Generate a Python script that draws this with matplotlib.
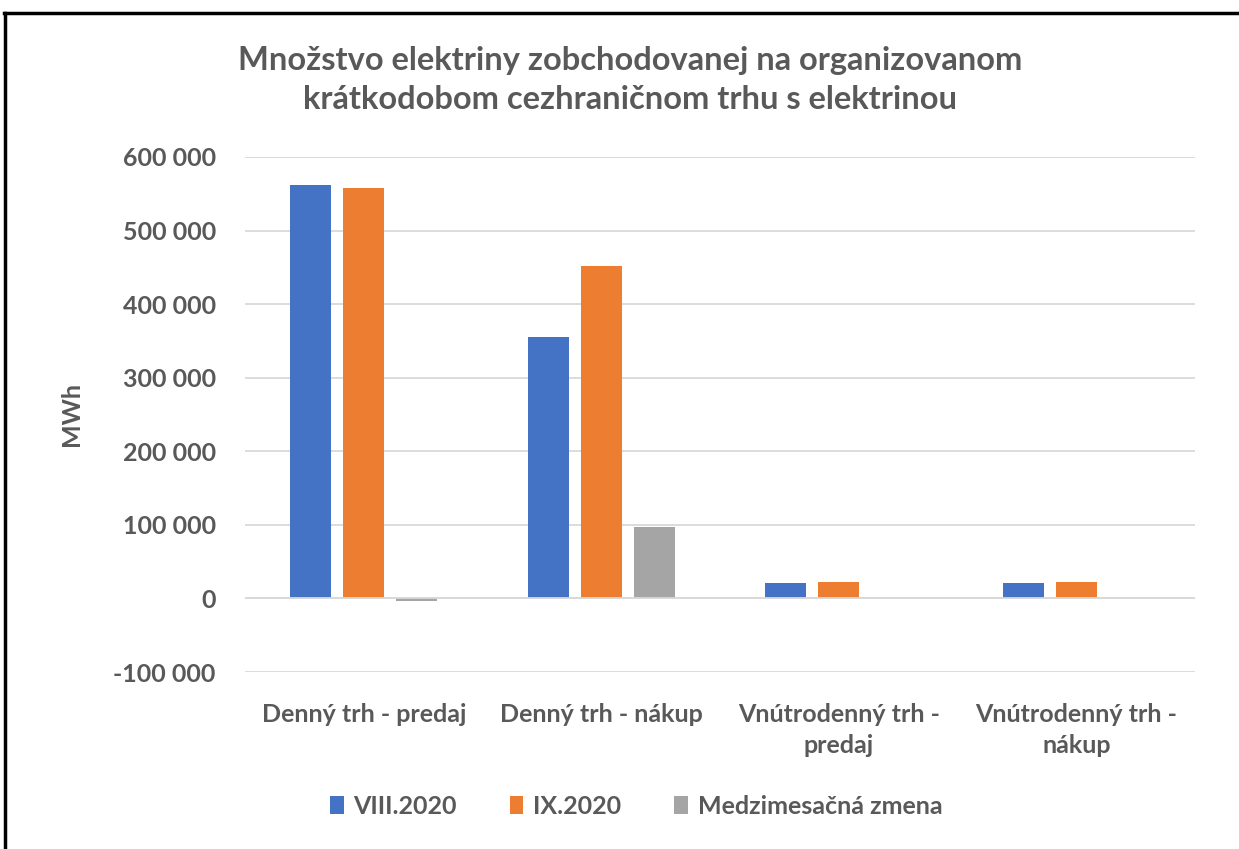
import matplotlib
matplotlib.use("Agg")
import matplotlib.pyplot as plt
from matplotlib.lines import Line2D
from matplotlib.ticker import FuncFormatter
import numpy as np

categories = ["Denný trh - predaj", "Denný trh - nákup", "Vnútrodenný trh -\npredaj", "Vnútrodenný trh -\nnákup"]
series_names = ["VIII.2020", "IX.2020", "Medzimesačná zmena"]
viii_2020 = [562000, 354700, 21300, 21300]
ix_2020 = [558500, 452400, 22600, 22600]
zmena = [-3500, 97700, 1000, 1000]
y_ticks = [-100000, 0, 100000, 200000, 300000, 400000, 500000, 600000]

colors = ["#4472C4", "#ED7D31", "#A5A5A5"]
text_color = "#595959"
plt.rcParams['font.family'] = ['Lato', 'DejaVu Sans']

fig = plt.figure(figsize=(12.39, 8.49), dpi=100)
ax = fig.add_axes([245/1239, 1-672/849, (1195-245)/1239, (672-157)/849])

x = np.arange(len(categories))
w = 41/237.5
off = 53/237.5
for i, (vals, c) in enumerate(zip([viii_2020, ix_2020, zmena], colors)):
    ax.bar(x + (i-1)*off, vals, width=w, color=c, zorder=3, label=series_names[i])

ax.set_xlim(-0.5, len(categories)-0.5)
ax.set_ylim(-100000, 600000)
ax.set_yticks(y_ticks)
ax.yaxis.set_major_formatter(FuncFormatter(lambda v, p: f"{int(v):,}".replace(",", " ")))
ax.grid(axis='y', color="#D9D9D9", linewidth=1.3, zorder=0)
ax.axhline(0, color="#D9D9D9", linewidth=1.3, zorder=4)
for s in ax.spines.values():
    s.set_visible(False)
ax.tick_params(axis='both', length=0, labelsize=18, colors=text_color)
ax.tick_params(axis='y', pad=21)
ax.tick_params(axis='x', pad=22)
ax.set_xticks(x)
ax.set_xticklabels(categories, fontweight='bold', linespacing=1.42)
for lbl in ax.get_yticklabels():
    lbl.set_fontweight('bold')
ax.set_ylabel("MWh", fontsize=18, fontweight='bold', color=text_color, labelpad=22)

fig.text(630/1239, 1-80/849, "Množstvo elektriny zobchodovanej na organizovanom\nkrátkodobom cezhraničnom trhu s elektrinou",
         ha='center', va='center', fontsize=23.5, fontweight='bold', color=text_color, linespacing=1.45)

leg = fig.legend(loc='center', bbox_to_anchor=(636/1239, 1-806/849), ncol=3, frameon=False,
                 fontsize=18, handlelength=0.55, handleheight=0.75, handletextpad=0.4, columnspacing=2.1)
for t in leg.get_texts():
    t.set_color(text_color)
    t.set_fontweight('bold')

fig.add_artist(Line2D([4/1239, 1.0], [1-13/849, 1-13/849], color='black', linewidth=2.5, transform=fig.transFigure))
fig.add_artist(Line2D([5/1239, 5/1239], [0.0, 1-13/849], color='black', linewidth=2.5, transform=fig.transFigure))

fig.savefig("out.png", dpi=100, facecolor='white')
